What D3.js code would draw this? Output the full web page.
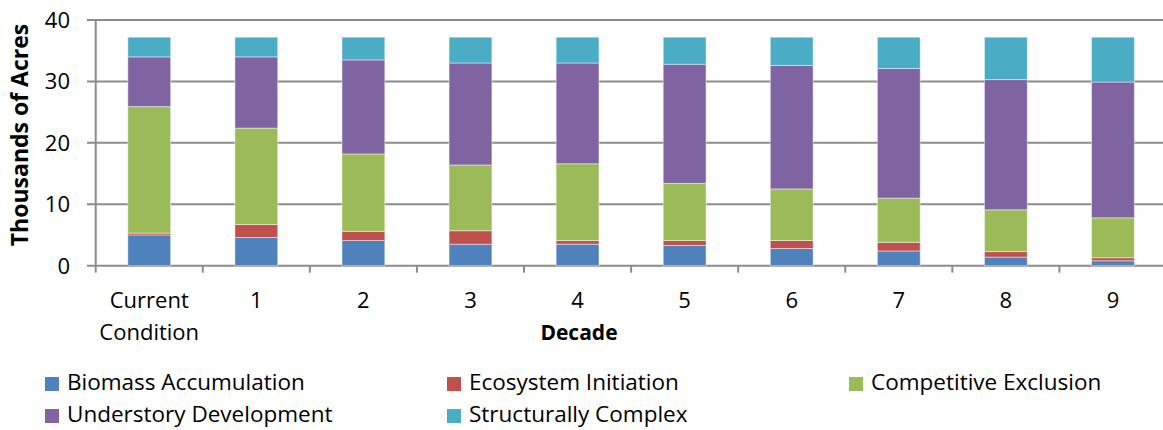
<!DOCTYPE html>
<html><head><meta charset="utf-8">
<script src="https://cdn.jsdelivr.net/npm/d3@7"></script>
<style>body{margin:0;background:#fff}svg{display:block}text{font-family:"Open Sans",Lato,sans-serif;fill:#000}</style>
</head><body><svg id="c" width="1163" height="430"></svg>
<script>
const categories = ["Current Condition","1","2","3","4","5","6","7","8","9"];
const seriesNames = ["Biomass Accumulation","Ecosystem Initiation","Competitive Exclusion","Understory Development","Structurally Complex"];
const biomass   = [5.0, 4.6, 4.1, 3.5, 3.5, 3.3, 2.8, 2.4, 1.4, 0.8];
const ecosystem = [0.3, 2.1, 1.5, 2.2, 0.6, 0.8, 1.3, 1.4, 0.9, 0.5];
const competitive=[20.6,15.7,12.6,10.7,12.5, 9.3, 8.4, 7.2, 6.8, 6.5];
const understory= [8.1, 11.6,15.3,16.6,16.4,19.4,20.1,21.1,21.2,22.1];
const structural= [3.2, 3.2, 3.7, 4.2, 4.2, 4.4, 4.6, 5.1, 6.9, 7.3];
const yTicks = [0,10,20,30,40];
const colors = ["#4F81BD","#C0504D","#9BBB59","#8064A2","#4BACC6"];

const svg = d3.select("#c");
const L = 95.7, R = 1166.5, T = 20, B = 265.7;
const x = d3.scaleBand().domain(categories).range([L,R]).paddingInner(0.6).paddingOuter(0.3);
const xb = d3.scaleBand().domain(categories).range([L,R]);
const y = d3.scaleLinear().domain([0,40]).range([B,T]);

// gridlines
svg.append("g").selectAll("line").data(yTicks).join("line")
  .attr("x1",87).attr("x2",R).attr("y1",d=>y(d)).attr("y2",d=>y(d))
  .attr("stroke","#8c8c8c").attr("stroke-width",2);
// y axis line
svg.append("line").attr("x1",L).attr("x2",L).attr("y1",T).attr("y2",B+7).attr("stroke","#8c8c8c").attr("stroke-width",2);
// x ticks
const bounds = categories.map(c=>xb(c)+xb.bandwidth());
svg.append("g").selectAll("line").data(bounds).join("line")
  .attr("x1",d=>d).attr("x2",d=>d).attr("y1",B).attr("y2",B+7).attr("stroke","#8c8c8c").attr("stroke-width",2);

const rows = categories.map((c,i)=>({cat:c, "Biomass Accumulation":biomass[i],"Ecosystem Initiation":ecosystem[i],"Competitive Exclusion":competitive[i],"Understory Development":understory[i],"Structurally Complex":structural[i]}));
const stack = d3.stack().keys(seriesNames)(rows);
svg.append("g").selectAll("g").data(stack).join("g")
  .attr("fill",(d,i)=>colors[i])
  .selectAll("rect").data(d=>d).join("rect")
  .attr("x",d=>x(d.data.cat)).attr("width",x.bandwidth())
  .attr("y",d=>y(d[1])).attr("height",d=>y(d[0])-y(d[1]))
  .attr("stroke","rgba(255,255,255,0.45)").attr("stroke-width",1);

// y tick labels
svg.append("g").selectAll("text").data(yTicks).join("text")
  .attr("x",70).attr("y",d=>y(d)).attr("dy","0.36em").attr("text-anchor","end")
  .attr("font-size",22).text(d=>d);
// y title
svg.append("text").attr("transform","translate(28,135) rotate(-90)").attr("text-anchor","middle")
  .attr("font-size",23).attr("font-weight","bold").text("Thousands of Acres");

// x labels
svg.append("g").selectAll("text").data(categories).join("text")
  .attr("x",d=>xb(d)+xb.bandwidth()/2).attr("y",308).attr("text-anchor","middle").attr("font-size",22)
  .each(function(d){
    const w = d.split(" ");
    d3.select(this).selectAll("tspan").data(w).join("tspan")
      .attr("x",xb(d)+xb.bandwidth()/2).attr("dy",(t,j)=>j?32:0).text(t=>t);
  });
svg.append("text").attr("x",579).attr("y",340).attr("text-anchor","middle").attr("font-size",21).attr("font-weight","bold").text("Decade");

// legend
const legPos = [[45,377],[447,377],[849,377],[45,409],[447,409]];
const lg = svg.append("g").selectAll("g").data(seriesNames).join("g")
  .attr("transform",(d,i)=>`translate(${legPos[i][0]},${legPos[i][1]})`);
lg.append("rect").attr("width",14).attr("height",14).attr("fill",(d,i)=>colors[i]);
lg.append("text").attr("x",22).attr("y",13).attr("font-size",22.5).text(d=>d);
</script></body></html>
